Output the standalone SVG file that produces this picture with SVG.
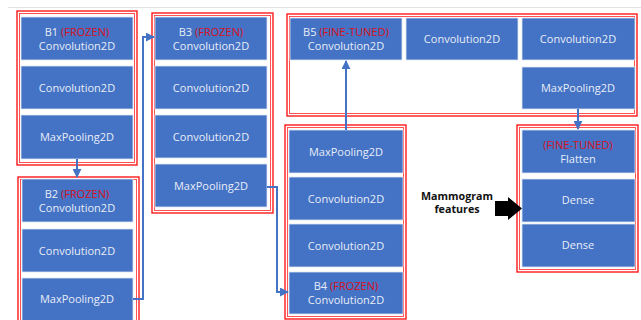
<svg xmlns="http://www.w3.org/2000/svg" width="641" height="320" viewBox="0 0 641 320">
<style>
.box{fill:#4472C4;stroke:#dfe6f3;stroke-width:0.8}
.fo{fill:none;stroke:#ff1a1a;stroke-width:1.4}
.fi{fill:none;stroke:#ff4040;stroke-width:0.9}
.t{font-family:"Open Sans","Liberation Sans",sans-serif;font-size:11px;fill:#e8eef8;text-anchor:middle}
.r{fill:#d8101c}
.con{fill:none;stroke:#4472C4;stroke-width:2}
.lbl{font-family:"Open Sans","Liberation Sans",sans-serif;font-size:10.7px;font-weight:bold;fill:#111;text-anchor:middle}
</style>
<defs>
<marker id="ah" viewBox="0 0 10 10" refX="9" refY="5" markerWidth="4.5" markerHeight="4.5" orient="auto" markerUnits="strokeWidth">
<path d="M0,0 L10,5 L0,10 z" fill="#4472C4"/>
</marker>
</defs>
<rect width="641" height="320" fill="#fff"/>
<line x1="8" y1="7.5" x2="641" y2="7.5" stroke="#e2e2e2" stroke-width="1"/>

<g id="B1">
<rect class="fo" x="17" y="11" width="120" height="154"/>
<rect class="fi" x="19.5" y="13.5" width="115" height="149"/>
<rect class="box" x="21" y="17" width="112" height="43"/>
<text class="t" x="77" y="36">B1 <tspan class="r">(FROZEN)</tspan></text>
<text class="t" x="77" y="49.5">Convolution2D</text>
<rect class="box" x="21" y="66" width="112" height="43"/>
<text class="t" x="77" y="91.5">Convolution2D</text>
<rect class="box" x="21" y="115" width="112" height="44"/>
<text class="t" x="77" y="141">MaxPooling2D</text>
</g>

<g id="B2">
<rect class="fo" x="18" y="177" width="121" height="150"/>
<rect class="fi" x="20.5" y="179.5" width="116" height="145"/>
<rect class="box" x="22" y="179" width="111" height="43"/>
<text class="t" x="77" y="198">B2 <tspan class="r">(FROZEN)</tspan></text>
<text class="t" x="77" y="211.5">Convolution2D</text>
<rect class="box" x="22" y="229" width="111" height="43"/>
<text class="t" x="77" y="254.5">Convolution2D</text>
<rect class="box" x="22" y="278" width="111" height="50"/>
<text class="t" x="77" y="303">MaxPooling2D</text>
</g>

<g id="B3">
<rect class="fo" x="152" y="13" width="121" height="200"/>
<rect class="fi" x="154.5" y="15.5" width="116" height="195"/>
<rect class="box" x="155" y="17" width="112" height="43"/>
<text class="t" x="211" y="36">B3 <tspan class="r">(FROZEN)</tspan></text>
<text class="t" x="211" y="49.5">Convolution2D</text>
<rect class="box" x="155" y="66" width="112" height="43"/>
<text class="t" x="211" y="91.5">Convolution2D</text>
<rect class="box" x="155" y="115" width="112" height="43"/>
<text class="t" x="211" y="140.5">Convolution2D</text>
<rect class="box" x="155" y="164" width="112" height="43"/>
<text class="t" x="211" y="190">MaxPooling2D</text>
</g>

<g id="B4">
<rect class="fo" x="285" y="125" width="121" height="194"/>
<rect class="fi" x="287.5" y="127.5" width="116" height="189"/>
<rect class="box" x="289" y="130" width="114" height="43"/>
<text class="t" x="346" y="156">MaxPooling2D</text>
<rect class="box" x="289" y="177" width="114" height="43"/>
<text class="t" x="346" y="202.5">Convolution2D</text>
<rect class="box" x="289" y="224" width="114" height="43"/>
<text class="t" x="346" y="249.5">Convolution2D</text>
<rect class="box" x="289" y="272" width="114" height="42"/>
<text class="t" x="346" y="290">B4 <tspan class="r">(FROZEN)</tspan></text>
<text class="t" x="346" y="303.5">Convolution2D</text>
</g>

<g id="B5">
<rect class="fo" x="287" y="14" width="350" height="102"/>
<rect class="fi" x="289.5" y="16.5" width="345" height="97"/>
<rect class="box" x="290" y="18" width="112" height="42"/>
<text class="t" x="346" y="36">B5 <tspan class="r">(FINE-TUNED)</tspan></text>
<text class="t" x="346" y="49.5">Convolution2D</text>
<rect class="box" x="406" y="18" width="112" height="42"/>
<text class="t" x="462" y="43">Convolution2D</text>
<rect class="box" x="522" y="18" width="113" height="42"/>
<text class="t" x="578" y="43">Convolution2D</text>
<rect class="box" x="522" y="67" width="113" height="42"/>
<text class="t" x="578" y="92">MaxPooling2D</text>
</g>

<g id="FC">
<rect class="fo" x="517" y="125" width="121" height="147"/>
<rect class="fi" x="519.5" y="127.5" width="116" height="142"/>
<rect class="box" x="522" y="130" width="113" height="43"/>
<text class="t" x="578" y="149"><tspan class="r">(FINE-TUNED)</tspan></text>
<text class="t" x="578" y="162.5">Flatten</text>
<rect class="box" x="522" y="179" width="113" height="43"/>
<text class="t" x="578" y="204">Dense</text>
<rect class="box" x="522" y="224" width="113" height="43"/>
<text class="t" x="578" y="249">Dense</text>
</g>

<g id="features">
<text class="lbl" x="457" y="200">Mammogram</text>
<text class="lbl" x="457" y="213">features</text>
<path d="M495,201 H508 V197 L522,208.5 L508,220 V216 H495 z" fill="#000"/>
</g>

<g id="connectors">
<path class="con" d="M77,159 V177" marker-end="url(#ah)"/>
<path class="con" d="M133,299 H143 V37 H154" marker-end="url(#ah)"/>
<path class="con" d="M267,187 H277 V292 H288" marker-end="url(#ah)"/>
<path class="con" d="M346,130 V61" marker-end="url(#ah)"/>
<path class="con" d="M578,109 V129" marker-end="url(#ah)"/>
</g>
</svg>
